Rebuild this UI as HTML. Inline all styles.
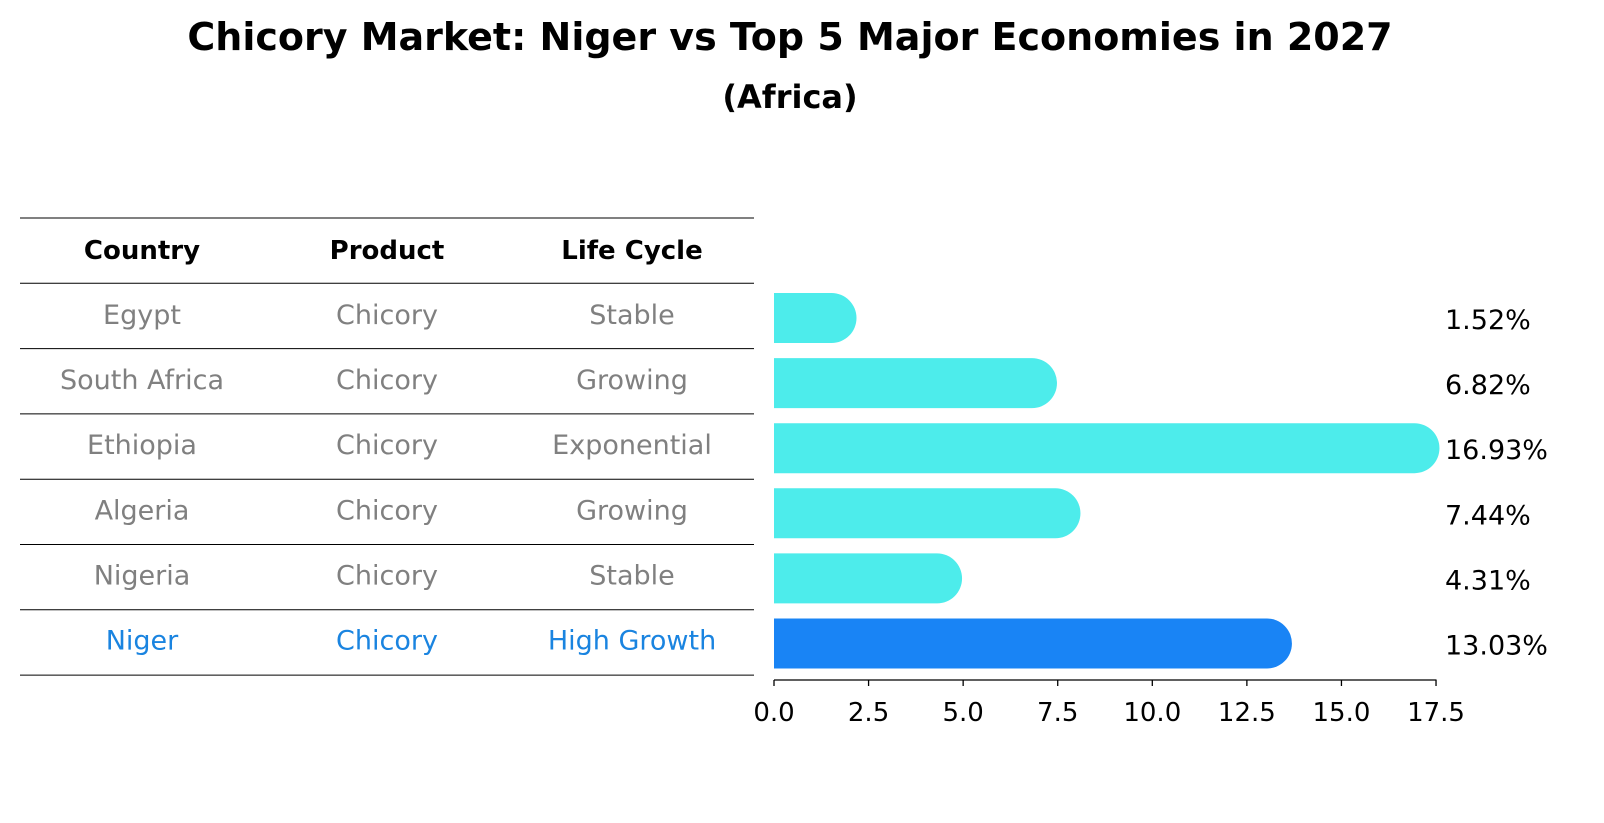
<!DOCTYPE html>
<html><head><meta charset="utf-8"><style>
body{margin:0;background:#fff;}
svg{display:block;font-family:"DejaVu Sans","Liberation Sans",sans-serif;}
</style></head><body>
<svg id="chart" width="1604" height="823" viewBox="0 0 1604 823">
<text x="790" y="50" text-anchor="middle" font-size="38" font-weight="bold">Chicory Market: Niger vs Top 5 Major Economies in 2027</text>
<text x="790" y="108" text-anchor="middle" font-size="32" font-weight="bold">(Africa)</text>
<g id="table"></g>
<g id="bars"></g>
</svg>
<script>
const countries=["Egypt","South Africa","Ethiopia","Algeria","Nigeria","Niger"];
const products=["Chicory","Chicory","Chicory","Chicory","Chicory","Chicory"];
const lifeCycles=["Stable","Growing","Exponential","Growing","Stable","High Growth"];
const values=[1.52,6.82,16.93,7.44,4.31,13.03];
const valueLabels=["1.52%","6.82%","16.93%","7.44%","4.31%","13.03%"];
const xTicks=[0,2.5,5,7.5,10,12.5,15,17.5];
const tickLabels=["0.0","2.5","5.0","7.5","10.0","12.5","15.0","17.5"];

const NS="http://www.w3.org/2000/svg";
function mk(tag,attrs,parent,text){const e=document.createElementNS(NS,tag);for(const k in attrs)e.setAttribute(k,attrs[k]);if(text!==undefined)e.textContent=text;parent.appendChild(e);return e;}
const x0=774,pxPerUnit=37.83;
const xScale=v=>x0+v*pxPerUnit;
const rowY=i=>315+i*65.1;
const table=document.getElementById('table'),bars=document.getElementById('bars');

for(let i=0;i<=countries.length+1;i++){
  const y=218+i*65.3;
  const l=mk('line',{x1:20,x2:754,y1:y,y2:y,stroke:'#000','stroke-width':1},table);
  
  
}
const colX=[142,387,632];
["Country","Product","Life Cycle"].forEach((h,j)=>{
  const t=mk('text',{x:colX[j],y:259,'text-anchor':'middle','font-size':26,'font-weight':'bold'},table,h);
  
  
});
countries.forEach((c,i)=>{
  const col=i===countries.length-1?'#1a84e0':'#808080';
  [c,products[i],lifeCycles[i]].forEach((v,j)=>{
    const t=mk('text',{x:colX[j],y:rowY(i)+9,'text-anchor':'middle','font-size':27,fill:col},table,v);
    
    
  });
});

const h=50,r=25;
values.forEach((v,i)=>{
  const yc=rowY(i)+3,xe=xScale(v);
  const col=i===values.length-1?'#1984f5':'#4deceb';
  const d=`M${x0},${yc-h/2} L${xe},${yc-h/2} A${r},${r} 0 0 1 ${xe},${yc+h/2} L${x0},${yc+h/2} Z`;
  const p=mk('path',{d:d,fill:col},bars);
  
  
  const t=mk('text',{x:1445,y:yc+11,'font-size':27},bars,valueLabels[i]);
  
  
});

const ax=mk('line',{x1:x0,x2:xScale(17.5)+0.5,y1:680,y2:680,stroke:'#000','stroke-width':1.3},bars);


xTicks.forEach((v,i)=>{
  const x=xScale(v);
  const tk=mk('line',{x1:x,x2:x,y1:680,y2:686,stroke:'#000','stroke-width':1.3},bars);
  
  
  const t=mk('text',{x:x,y:721,'text-anchor':'middle','font-size':26},bars,tickLabels[i]);
  
  
});
</script>
</body></html>
